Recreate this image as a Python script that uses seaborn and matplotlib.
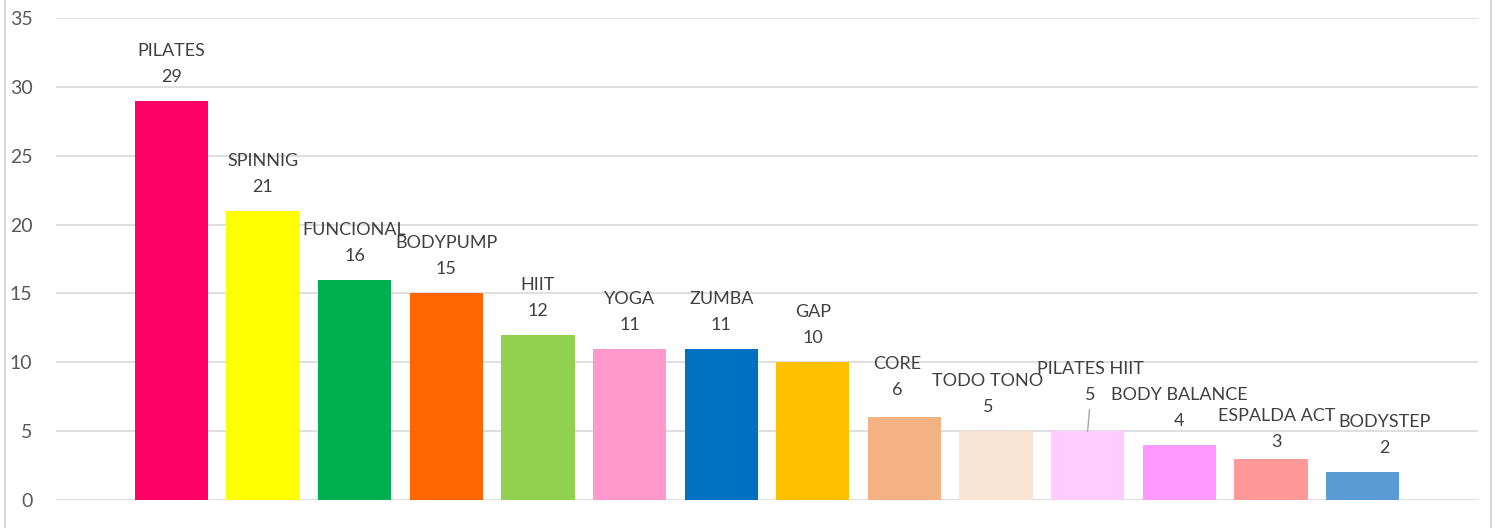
import matplotlib
matplotlib.use("Agg")
import matplotlib.pyplot as plt
from matplotlib.lines import Line2D
import seaborn as sns
import pandas as pd

# data
classes = ["PILATES", "SPINNIG", "FUNCIONAL", "BODYPUMP", "HIIT", "YOGA", "ZUMBA",
           "GAP", "CORE", "TODO TONO", "PILATES HIIT", "BODY BALANCE", "ESPALDA ACT", "BODYSTEP"]
counts = [29, 21, 16, 15, 12, 11, 11, 10, 6, 5, 5, 4, 3, 2]
colors = ["#FF0066", "#FFFF00", "#00B050", "#FF6600", "#92D050", "#FF99CC", "#0070C0",
          "#FFC000", "#F4B183", "#F8E3D5", "#FFCCFF", "#FF99FF", "#FF9999", "#5B9BD5"]
yticks = [0, 5, 10, 15, 20, 25, 30, 35]

# label nudges (pixels) where the data labels were moved by hand
nudge = {"CORE": (-7, 3), "TODO TONO": (-8, 0), "PILATES HIIT": (3, 12),
         "ESPALDA ACT": (6, -7), "BODYSTEP": (22, 0)}

df = pd.DataFrame({"clase": classes, "n": counts})

sns.set_style("white")
plt.rcParams["font.family"] = ["Lato", "DejaVu Sans"]

fig = plt.figure(figsize=(14.95, 5.28), dpi=100)
ax = fig.add_axes([56 / 1495, 28 / 528, 1422 / 1495, 482 / 528])

sns.barplot(data=df, x="clase", y="n", hue="clase", palette=colors, legend=False,
            width=0.8, saturation=1, linewidth=0, ax=ax, zorder=3)

ax.set_xlim(-1.26, len(classes) - 1 + 1.26)
ax.set_ylim(0, 35)
ax.set_yticks(yticks)
ax.set_xticks([])
ax.set_xlabel("")
ax.set_ylabel("")
ax.grid(axis="y", color="#D9D9D9", linewidth=1.2, zorder=0)
ax.set_axisbelow(True)
for s in ax.spines.values():
    s.set_visible(False)
ax.tick_params(axis="y", length=0, pad=17, labelsize=14, labelcolor="#595959")

for i, (name, v) in enumerate(zip(classes, counts)):
    dx, dy = nudge.get(name, (0, 0))
    kw = dict(textcoords="offset pixels", ha="center", va="center",
              fontsize=13, color="#404040", zorder=5)
    if name == "PILATES HIIT":
        ax.annotate(str(v), xy=(i, v), xytext=(dx, 24 + dy),
                    arrowprops=dict(arrowstyle="-", color="#A6A6A6", lw=1,
                                    shrinkA=2, shrinkB=0), **kw)
    else:
        ax.annotate(str(v), xy=(i, v), xytext=(dx, 24 + dy), **kw)
    ax.annotate(name, xy=(i, v), xytext=(dx, 50 + dy), **kw)

# chart frame edges
fig.add_artist(Line2D([5 / 1495, 5 / 1495], [0, 1], color="#D9D9D9", lw=1.5))
fig.add_artist(Line2D([1491 / 1495, 1491 / 1495], [0, 1], color="#D9D9D9", lw=1.5))

fig.savefig("out.png", dpi=100)
